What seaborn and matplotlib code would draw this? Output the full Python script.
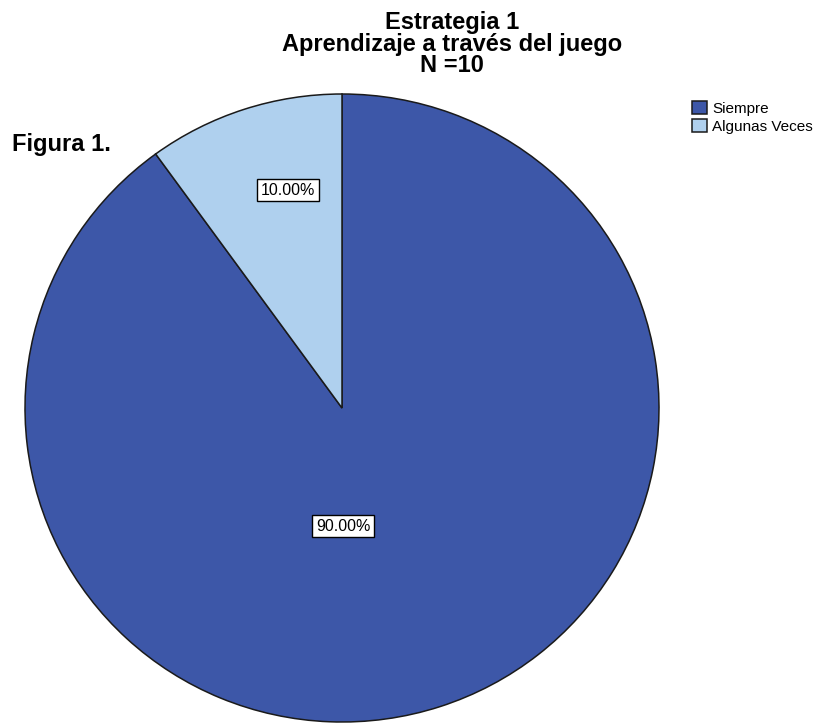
import numpy as np
import matplotlib
matplotlib.use("Agg")
import matplotlib.pyplot as plt
import seaborn as sns

# data
categories = ["Siempre", "Algunas Veces"]
counts = [9, 1]
pct_labels = ["90.00%", "10.00%"]
title_lines = ["Estrategia 1", "Aprendizaje a través del juego", "N =10"]

colors = ["#3D57A8", "#AFD0EE"]
# where SPSS put the percentage boxes (axes data units)
label_pos = [(0.003, -0.376), (-0.170, 0.694)]

sns.set_theme(style="white")
plt.rcParams["font.family"] = ["Liberation Sans", "DejaVu Sans"]
plt.rcParams["text.color"] = "black"

fig = plt.figure(figsize=(8.27, 7.24), dpi=100)
ax = fig.add_axes([25 / 827, 2 / 724, 634 / 827, 628 / 724])

wedges, texts = ax.pie(counts, colors=colors, startangle=90, counterclock=False,
                       wedgeprops=dict(edgecolor="#1a1a1a", linewidth=1.1))
ax.set_aspect("auto")
ax.set_xlim(-1, 1)
ax.set_ylim(-1, 1)
ax.axis("off")

for lab, (x, y) in zip(pct_labels, label_pos):
    ax.text(x, y, lab, ha="center", va="center", fontsize=11.5, color="black",
            bbox=dict(boxstyle="square,pad=0.22", facecolor="white",
                      edgecolor="black", linewidth=1.0))

fig.text(452 / 827, 1 - 11 / 724, "\n".join(title_lines), ha="center", va="top",
         fontsize=17, fontweight="bold", linespacing=0.93, color="black")
fig.text(12 / 827, 1 - 151 / 724, "Figura 1.", ha="left", va="baseline",
         fontsize=17, fontweight="bold", color="black")

leg = fig.legend(wedges, categories, loc="upper left",
                 bbox_to_anchor=(692 / 827, 1 - 101 / 724), frameon=False,
                 fontsize=11, handlelength=1.0, handleheight=0.9,
                 handletextpad=0.3, labelspacing=0.25, borderpad=0,
                 borderaxespad=0, labelcolor="black")

fig.savefig("out.png", dpi=100)
